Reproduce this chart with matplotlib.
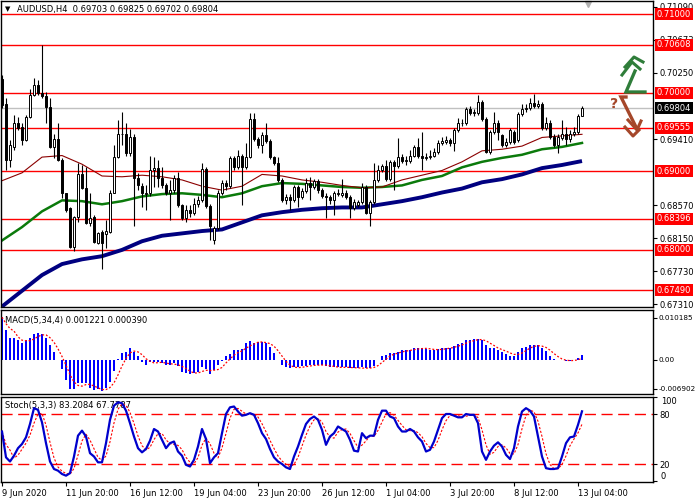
import numpy as np
import pandas as pd
import matplotlib
matplotlib.use('Agg')
import matplotlib.pyplot as plt
import matplotlib.transforms as mtrans

# AUDUSD H4 candles, 146 bars (9 Jun 2020 04:00 .. 13 Jul 2020 08:00)
opens = [
    0.7017, 0.6985, 0.6914, 0.6931, 0.6961, 0.6956, 0.6940, 0.6969, 0.6997, 0.7010,
    0.6999, 0.6996, 0.6982, 0.6931, 0.6941, 0.6914, 0.6872, 0.6853, 0.6804, 0.6842,
    0.6896, 0.6879, 0.6834, 0.6842, 0.6809, 0.6823, 0.6820, 0.6823, 0.6873, 0.6918,
    0.6948, 0.6948, 0.6923, 0.6943, 0.6891, 0.6881, 0.6871, 0.6872, 0.6901, 0.6904,
    0.6891, 0.6882, 0.6873, 0.6876, 0.6891, 0.6857, 0.6840, 0.6851, 0.6847, 0.6859,
    0.6863, 0.6903, 0.6856, 0.6812, 0.6828, 0.6872, 0.6885, 0.6881, 0.6917, 0.6905,
    0.6919, 0.6905, 0.6918, 0.6966, 0.6941, 0.6933, 0.6946, 0.6938, 0.6918, 0.6910,
    0.6889, 0.6863, 0.6867, 0.6864, 0.6880, 0.6867, 0.6875, 0.6885, 0.6880, 0.6887,
    0.6876, 0.6868, 0.6867, 0.6863, 0.6871, 0.6870, 0.6873, 0.6867, 0.6853, 0.6857,
    0.6861, 0.6880, 0.6847, 0.6861, 0.6889, 0.6901, 0.6907, 0.6890, 0.6912, 0.6907,
    0.6918, 0.6913, 0.6913, 0.6920, 0.6931, 0.6920, 0.6917, 0.6918, 0.6920, 0.6924,
    0.6936, 0.6937, 0.6940, 0.6936, 0.6952, 0.6961, 0.6961, 0.6979, 0.6974, 0.6974,
    0.6988, 0.6966, 0.6924, 0.6950, 0.6962, 0.6946, 0.6933, 0.6937, 0.6950, 0.6940,
    0.6973, 0.6979, 0.6980, 0.6987, 0.6983, 0.6985, 0.6955, 0.6962, 0.6943, 0.6934,
    0.6942, 0.6948, 0.6941, 0.6947, 0.6950, 0.69703]
highs = [
    0.7022, 0.6993, 0.6940, 0.6971, 0.6969, 0.6961, 0.6971, 0.7004, 0.7018, 0.7016,
    0.7060, 0.7001, 0.6993, 0.6948, 0.6961, 0.6917, 0.6873, 0.6854, 0.6843, 0.6910,
    0.6908, 0.6905, 0.6872, 0.6844, 0.6823, 0.6825, 0.6838, 0.6876, 0.6933, 0.6965,
    0.6975, 0.6961, 0.6954, 0.6947, 0.6898, 0.6885, 0.6882, 0.6920, 0.6918, 0.6914,
    0.6905, 0.6885, 0.6889, 0.6895, 0.6899, 0.6859, 0.6857, 0.6857, 0.6866, 0.6868,
    0.6910, 0.6905, 0.6858, 0.6830, 0.6876, 0.6889, 0.6889, 0.6920, 0.6920, 0.6927,
    0.6922, 0.6936, 0.6974, 0.6974, 0.6943, 0.6950, 0.6961, 0.6941, 0.6920, 0.6918,
    0.6891, 0.6871, 0.6871, 0.6882, 0.6882, 0.6879, 0.6891, 0.6893, 0.6890, 0.6890,
    0.6879, 0.6872, 0.6870, 0.6875, 0.6877, 0.6890, 0.6876, 0.6870, 0.6865, 0.6863,
    0.6885, 0.6882, 0.6863, 0.6910, 0.6908, 0.6909, 0.6914, 0.6914, 0.6914, 0.6942,
    0.6922, 0.6919, 0.6927, 0.6933, 0.6942, 0.6950, 0.6923, 0.6927, 0.6929, 0.6940,
    0.6943, 0.6945, 0.6942, 0.6955, 0.6968, 0.6966, 0.6982, 0.6983, 0.6979, 0.6997,
    0.6991, 0.6969, 0.6952, 0.6975, 0.6965, 0.6948, 0.6942, 0.6955, 0.6952, 0.6975,
    0.6985, 0.6985, 0.6993, 0.6998, 0.6991, 0.6988, 0.6969, 0.6965, 0.6948, 0.6948,
    0.6965, 0.6956, 0.6952, 0.6956, 0.6973, 0.69825]
lows = [
    0.6980, 0.6901, 0.6905, 0.6927, 0.6952, 0.6933, 0.6938, 0.6968, 0.6996, 0.6997,
    0.6993, 0.6962, 0.6929, 0.6917, 0.6913, 0.6866, 0.6848, 0.6802, 0.6798, 0.6836,
    0.6877, 0.6833, 0.6831, 0.6809, 0.6807, 0.6776, 0.6803, 0.6821, 0.6872, 0.6917,
    0.6933, 0.6920, 0.6919, 0.6831, 0.6876, 0.6854, 0.6851, 0.6868, 0.6880, 0.6880,
    0.6879, 0.6870, 0.6838, 0.6873, 0.6854, 0.6838, 0.6835, 0.6842, 0.6844, 0.6854,
    0.6861, 0.6853, 0.6812, 0.6807, 0.6825, 0.6870, 0.6876, 0.6879, 0.6901, 0.6903,
    0.6857, 0.6903, 0.6917, 0.6938, 0.6929, 0.6923, 0.6936, 0.6915, 0.6908, 0.6886,
    0.6861, 0.6859, 0.6851, 0.6861, 0.6854, 0.6865, 0.6872, 0.6863, 0.6877, 0.6873,
    0.6866, 0.6840, 0.6859, 0.6844, 0.6868, 0.6867, 0.6865, 0.6840, 0.6851, 0.6854,
    0.6858, 0.6846, 0.6831, 0.6858, 0.6886, 0.6899, 0.6887, 0.6887, 0.6876, 0.6904,
    0.6910, 0.6908, 0.6910, 0.6918, 0.6917, 0.6901, 0.6914, 0.6915, 0.6918, 0.6922,
    0.6933, 0.6935, 0.6932, 0.6926, 0.6950, 0.6957, 0.6959, 0.6971, 0.6970, 0.6971,
    0.6964, 0.6923, 0.6922, 0.6947, 0.6940, 0.6931, 0.6931, 0.6935, 0.6935, 0.6937,
    0.6970, 0.6975, 0.6978, 0.6980, 0.6980, 0.6952, 0.6952, 0.6941, 0.6931, 0.6923,
    0.6940, 0.6933, 0.6937, 0.6945, 0.6947, 0.69702]
closes = [
    0.6984, 0.6914, 0.6933, 0.6962, 0.6955, 0.6940, 0.6969, 0.6997, 0.7010, 0.6999,
    0.6996, 0.6982, 0.6931, 0.6941, 0.6914, 0.6872, 0.6851, 0.6804, 0.6842, 0.6896,
    0.6879, 0.6834, 0.6840, 0.6810, 0.6821, 0.6809, 0.6824, 0.6873, 0.6918, 0.6947,
    0.6947, 0.6923, 0.6943, 0.6891, 0.6882, 0.6872, 0.6873, 0.6901, 0.6904, 0.6891,
    0.6882, 0.6873, 0.6876, 0.6891, 0.6857, 0.6840, 0.6851, 0.6847, 0.6859, 0.6863,
    0.6903, 0.6856, 0.6830, 0.6828, 0.6872, 0.6885, 0.6881, 0.6917, 0.6905, 0.6919,
    0.6905, 0.6918, 0.6966, 0.6941, 0.6933, 0.6946, 0.6938, 0.6918, 0.6910, 0.6889,
    0.6863, 0.6867, 0.6864, 0.6880, 0.6867, 0.6875, 0.6885, 0.6880, 0.6887, 0.6876,
    0.6868, 0.6867, 0.6863, 0.6872, 0.6873, 0.6873, 0.6867, 0.6853, 0.6861, 0.6861,
    0.6880, 0.6847, 0.6861, 0.6889, 0.6901, 0.6907, 0.6890, 0.6912, 0.6907, 0.6918,
    0.6913, 0.6914, 0.6920, 0.6931, 0.6919, 0.6917, 0.6918, 0.6920, 0.6924, 0.6936,
    0.6938, 0.6940, 0.6936, 0.6952, 0.6961, 0.6962, 0.6979, 0.6974, 0.6975, 0.6988,
    0.6966, 0.6924, 0.6950, 0.6962, 0.6950, 0.6933, 0.6937, 0.6952, 0.6937, 0.6973,
    0.6979, 0.6980, 0.6987, 0.6983, 0.6985, 0.6955, 0.6962, 0.6943, 0.6933, 0.6943,
    0.6948, 0.6941, 0.6947, 0.6950, 0.6970, 0.69804]

# moving averages read every 5 bars
ma_bars = list(range(0, 146, 5))
ma_red = [0.6888, 0.6898, 0.6918, 0.6920, 0.6909, 0.6894, 0.6893, 0.6895, 0.6893, 0.6889,
          0.6881, 0.6876, 0.6881, 0.6896, 0.6894, 0.6889, 0.6886, 0.6882, 0.6879, 0.6880,
          0.6889, 0.6895, 0.6901, 0.6912, 0.6926, 0.6928, 0.6932, 0.6943, 0.6945, 0.6947]
ma_green = [0.6812, 0.6829, 0.6849, 0.6863, 0.6862, 0.6858, 0.6862, 0.6868, 0.6871, 0.6872,
            0.6870, 0.6867, 0.6872, 0.6881, 0.6885, 0.6884, 0.6882, 0.6880, 0.6879, 0.6880,
            0.6882, 0.6889, 0.6894, 0.6905, 0.6912, 0.6917, 0.6921, 0.6928, 0.6931, 0.6936]
ma_navy = [0.6728, 0.6748, 0.6768, 0.6782, 0.6788, 0.6792, 0.6800, 0.6811, 0.6818, 0.6821,
           0.6824, 0.6826, 0.6835, 0.6844, 0.6848, 0.6851, 0.6853, 0.6854, 0.6854, 0.6858,
           0.6862, 0.6867, 0.6873, 0.6878, 0.6886, 0.6890, 0.6896, 0.6904, 0.6908, 0.6913]

levels = [0.71000, 0.70608, 0.70000, 0.69555, 0.69000, 0.68396, 0.68000, 0.67490]
bid = 0.69804
price_ticks = [0.71090, 0.70673, 0.70250, 0.69410, 0.68570, 0.68150, 0.67730, 0.67310]

macd = [
    0.0103, 0.0072, 0.0052, 0.0052, 0.0047, 0.0040, 0.0047, 0.0052, 0.0063, 0.0064,
    0.0063, 0.0052, 0.0036, 0.0020, 0.0000, -0.0022, -0.0048, -0.0071, -0.0071, -0.0055,
    -0.0055, -0.0056, -0.0068, -0.0072, -0.0071, -0.0074, -0.0068, -0.0052, -0.0026, 0.0002,
    0.0018, 0.0020, 0.0028, 0.0020, 0.0010, -0.0006, -0.0012, -0.0004, -0.0006, -0.0004,
    -0.0008, -0.0012, -0.0012, -0.0008, -0.0014, -0.0028, -0.0032, -0.0034, -0.0031, -0.0028,
    -0.0018, -0.0022, -0.0034, -0.0024, -0.0012, -0.0002, 0.0010, 0.0014, 0.0024, 0.0024,
    0.0026, 0.0040, 0.0046, 0.0042, 0.0043, 0.0043, 0.0040, 0.0032, 0.0018, 0.0000,
    -0.0012, -0.0018, -0.0020, -0.0018, -0.0018, -0.0014, -0.0014, -0.0012, -0.0012, -0.0012,
    -0.0012, -0.0014, -0.0018, -0.0018, -0.0018, -0.0018, -0.0016, -0.0020, -0.0020, -0.0020,
    -0.0018, -0.0020, -0.0020, -0.0014, 0.0000, 0.0010, 0.0012, 0.0016, 0.0018, 0.0020,
    0.0024, 0.0024, 0.0024, 0.0028, 0.0030, 0.0028, 0.0026, 0.0024, 0.0024, 0.0026,
    0.0028, 0.0030, 0.0030, 0.0034, 0.0039, 0.0042, 0.0047, 0.0048, 0.0050, 0.0051,
    0.0048, 0.0036, 0.0028, 0.0028, 0.0024, 0.0020, 0.0014, 0.0010, 0.0010, 0.0020,
    0.0028, 0.0032, 0.0035, 0.0036, 0.0035, 0.0028, 0.0022, 0.0010, 0.0002, -0.0001,
    -0.0001, -0.0002, -0.0002, 0.0000, 0.0006, 0.00122]

stoch_k = [
    59, 28, 23, 30, 39, 44, 52, 68, 87, 85,
    70, 45, 23, 14, 12, 8, 6, 9, 29, 54,
    60, 53, 33, 29, 22, 22, 45, 73, 90, 94,
    93, 84, 69, 53, 39, 34, 38, 48, 62, 59,
    49, 39, 45, 47, 35, 30, 19, 17, 25, 41,
    62, 50, 21, 28, 33, 57, 80, 88, 89, 83,
    78, 79, 81, 79, 69, 57, 50, 38, 28, 23,
    20, 16, 14, 29, 41, 55, 68, 74, 77, 73,
    61, 43, 53, 57, 65, 62, 59, 49, 36, 35,
    57, 51, 54, 54, 73, 84, 84, 77, 75, 65,
    59, 59, 62, 59, 52, 47, 35, 37, 47, 61,
    75, 80, 80, 78, 76, 76, 80, 79, 79, 69,
    35, 25, 35, 42, 46, 41, 31, 26, 39, 65,
    83, 87, 84, 77, 53, 29, 15, 14, 14, 15,
    29, 45, 52, 53, 67, 83.2084]

date_bars = [0, 16, 32, 48, 64, 80, 96, 112, 128, 144]
date_labels = ['9 Jun 2020', '11 Jun 20:00', '16 Jun 12:00', '19 Jun 04:00', '23 Jun 20:00',
               '26 Jun 12:00', '1 Jul 04:00', '3 Jul 20:00', '8 Jul 12:00', '13 Jul 04:00']

o = np.array(opens); h = np.array(highs); l = np.array(lows); c = np.array(closes)
x = np.arange(len(c))
signal = pd.Series(macd).rolling(4, min_periods=1).mean()
stoch_d = pd.Series(stoch_k).rolling(3, min_periods=1).mean()

W, H = 700, 500
fig = plt.figure(figsize=(7, 5), dpi=100)
plt.rcParams['font.family'] = 'DejaVu Sans'
FS = 6


def px_axes(x0, y0, x1, y1):
    return fig.add_axes([x0 / W, 1 - y1 / H, (x1 - x0) / W, (y1 - y0) / H])


ax = px_axes(0.5, 0.5, 653, 307)
ax_m = px_axes(0.5, 310, 653, 394)
ax_s = px_axes(0.5, 397, 653, 482)

for a in (ax, ax_m, ax_s):
    a.set_xlim(-0.375, 162.75)
    a.yaxis.tick_right()
    a.tick_params(axis='y', direction='out', length=3, width=0.8, labelsize=FS, pad=1.5)
    a.tick_params(axis='x', bottom=False, labelbottom=False)
    for s in a.spines.values():
        s.set_linewidth(1.0)
        s.set_color('black')

# ---- price panel
ax.set_ylim(0.672739, 0.711717)
ax.set_yticks(price_ticks)
ax.set_yticklabels([f'{v:.5f}' for v in price_ticks])
for lv in levels:
    ax.axhline(lv, color='#ff0000', lw=1.0, zorder=1)
ax.axhline(bid, color='#c0c0c0', lw=1.0, zorder=1)

ax.plot(ma_bars, ma_navy, color='#000080', lw=2.8, solid_capstyle='butt', zorder=2)
ax.plot(ma_bars, ma_green, color='#0b7a0b', lw=1.8, zorder=2)
ax.plot(ma_bars, ma_red, color='#8b0000', lw=0.8, zorder=2)

ax.vlines(x, l, h, color='black', lw=0.8, zorder=3)
body_col = np.where(c >= o, 'white', 'black')
ax.bar(x, np.abs(c - o), bottom=np.minimum(o, c), width=0.72, color=body_col,
       edgecolor='black', linewidth=0.7, zorder=4)

ytr = mtrans.blended_transform_factory(ax.transAxes, ax.transData)
for lv in levels:
    ax.text(1.006, lv, f'{lv:.5f}', transform=ytr, fontsize=FS, color='white', va='center',
            ha='left', clip_on=False, zorder=10,
            bbox=dict(facecolor='#ff0000', edgecolor='none', pad=1.1))
ax.text(1.006, bid, f'{bid:.5f}', transform=ytr, fontsize=FS, color='white', va='center',
        ha='left', clip_on=False, zorder=10,
        bbox=dict(facecolor='black', edgecolor='none', pad=1.1))

ax.text(0.007, 0.972, '\u25bc', transform=ax.transAxes, fontsize=5, va='center', ha='left')
ax.text(0.026, 0.972, 'AUDUSD,H4  0.69703 0.69825 0.69702 0.69804', transform=ax.transAxes,
        fontsize=FS, va='center', ha='left')
ax.plot([146.5], [0.7113], marker='v', color='#b0b0b0', ms=5, clip_on=False)

# ---- MACD panel
ax_m.set_ylim(-0.008193, 0.012048)
ax_m.set_yticks([0.010185, 0.0, -0.006902])
ax_m.set_yticklabels(['0.010185', '0.00', '-0.006902'])
ax_m.tick_params(axis='y', labelsize=5.2, pad=0.8)
ax_m.bar(x, macd, width=0.72, color='#0000ff', zorder=2)
ax_m.plot(x, signal, color='#ff0000', lw=0.9, ls=(0, (1.5, 1.5)), zorder=3)
ax_m.text(0.007, 0.88, 'MACD(5,34,4) 0.001221 0.000390', transform=ax_m.transAxes,
          fontsize=FS, va='center', ha='left')

# ---- Stochastic panel
ax_s.set_ylim(-1.6, 100.4)
ax_s.set_yticks([100, 80, 20, 0])
ax_s.set_yticklabels(['', '80', '20', ''])
str_ = mtrans.blended_transform_factory(ax_s.transAxes, ax_s.transData)
ax_s.text(1.012, 94.5, '100', transform=str_, fontsize=FS, va='center', ha='left')
ax_s.text(1.012, 5, '0', transform=str_, fontsize=FS, va='center', ha='left')
for lv in (80, 20):
    ax_s.axhline(lv, color='#ff0000', lw=1.0, ls=(0, (8, 4)), zorder=1)
ax_s.plot(x, stoch_d, color='#ff0000', lw=0.8, ls=(0, (2, 1.5)), zorder=2)
ax_s.plot(x, stoch_k, color='#0000cc', lw=1.6, zorder=3)
ax_s.text(0.007, 0.9, 'Stoch(5,3,3) 83.2084 67.7787', transform=ax_s.transAxes,
          fontsize=FS, va='center', ha='left', zorder=1)

ax_s.tick_params(axis='x', bottom=True, labelbottom=True, direction='out', length=3,
                 width=0.8, labelsize=FS, pad=2)
ax_s.set_xticks(date_bars)
ax_s.set_xticklabels(date_labels)
for lbl in ax_s.get_xticklabels():
    lbl.set_ha('left')

# ---- signal icons on the right of the price panel
ov = fig.add_axes([0, 0, 1, 1], facecolor='none')
ov.set_xlim(0, W)
ov.set_ylim(H, 0)
ov.axis('off')
green = '#2f7d3a'
brown = '#a5472a'
ov.plot([645, 626, 635], [92, 92, 71], color=green, lw=2.4, solid_joinstyle='miter')
ov.plot([622, 632, 640], [75, 62, 69], color=green, lw=2.2)
ov.plot([625, 634, 643], [67, 57, 62], color=green, lw=2.2)
ov.text(614, 104, '?', color=brown, fontsize=10, fontweight='bold', ha='center', va='center')
ov.plot([626, 621, 636], [97, 97, 127], color=brown, lw=2.4, solid_joinstyle='miter')
ov.plot([628, 637, 641], [120, 130, 121], color=brown, lw=2.2)
ov.plot([625, 633, 639], [127, 136, 130], color=brown, lw=2.2)

fig.savefig('out.png', dpi=100)
